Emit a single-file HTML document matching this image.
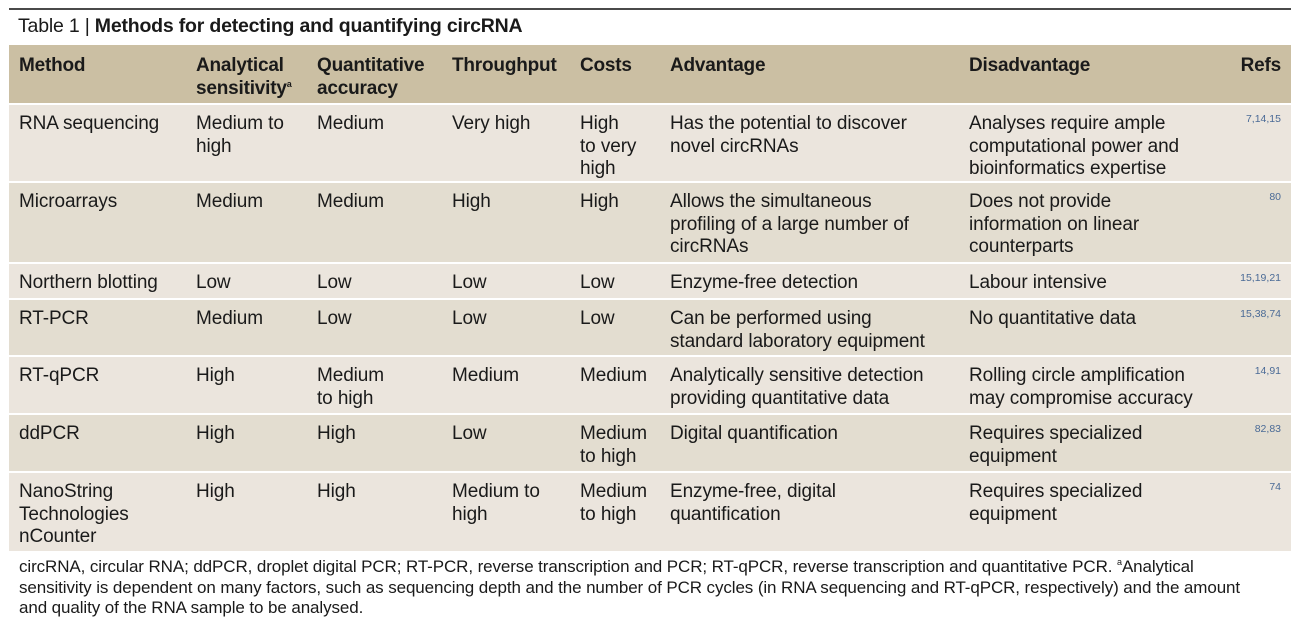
<!DOCTYPE html>
<html><head><meta charset="utf-8"><style>
body{margin:0;width:1308px;height:625px;background:#fff;font-family:"Liberation Sans",sans-serif;color:#1a1a1a;position:relative;overflow:hidden}
.topline{position:absolute;left:9px;top:8px;width:1282px;height:2px;background:#4a4a4a}
.title{position:absolute;left:18px;top:15px;font-size:19.5px;letter-spacing:-0.2px;white-space:nowrap}
.row{position:absolute;left:9px;width:1282px}
.hd{background:#cbbfa3}
.l{background:#ebe5dd}
.d{background:#e3ddd0}
.c{position:absolute;top:8px;font-size:19px;line-height:22.5px;white-space:nowrap;letter-spacing:-0.1px}
.hd .c{font-weight:bold;top:9px;line-height:23px;font-size:19px;letter-spacing:-0.2px}
.ref{position:absolute;right:10px;top:8px;font-size:10.5px;color:#4a6a96}
.foot{position:absolute;left:19px;top:557px;font-size:17px;line-height:20.5px;white-space:nowrap;letter-spacing:-0.1px}
sup{font-size:9px;line-height:0;vertical-align:7px}
</style></head><body>
<div class="topline"></div>
<div class="title">Table 1 | <b>Methods for detecting and quantifying circRNA</b></div>

<div class="row hd" style="top:45px;height:58px">
<div class="c" style="left:10px">Method</div>
<div class="c" style="left:187px">Analytical<br>sensitivity<sup>a</sup></div>
<div class="c" style="left:308px">Quantitative<br>accuracy</div>
<div class="c" style="left:443px">Throughput</div>
<div class="c" style="left:571px">Costs</div>
<div class="c" style="left:661px">Advantage</div>
<div class="c" style="left:960px">Disadvantage</div>
<div class="c" style="right:10px">Refs</div>
</div>

<div class="row l" style="top:105px;height:76px">
<div class="c" style="left:10px">RNA sequencing</div>
<div class="c" style="left:187px">Medium to<br>high</div>
<div class="c" style="left:308px">Medium</div>
<div class="c" style="left:443px">Very high</div>
<div class="c" style="left:571px">High<br>to very<br>high</div>
<div class="c" style="left:661px">Has the potential to discover<br>novel circRNAs</div>
<div class="c" style="left:960px">Analyses require ample<br>computational power and<br>bioinformatics expertise</div>
<div class="ref">7,14,15</div>
</div>

<div class="row d" style="top:183px;height:79px">
<div class="c" style="left:10px">Microarrays</div>
<div class="c" style="left:187px">Medium</div>
<div class="c" style="left:308px">Medium</div>
<div class="c" style="left:443px">High</div>
<div class="c" style="left:571px">High</div>
<div class="c" style="left:661px">Allows the simultaneous<br>profiling of a large number of<br>circRNAs</div>
<div class="c" style="left:960px">Does not provide<br>information on linear<br>counterparts</div>
<div class="ref">80</div>
</div>

<div class="row l" style="top:264px;height:34px">
<div class="c" style="left:10px">Northern blotting</div>
<div class="c" style="left:187px">Low</div>
<div class="c" style="left:308px">Low</div>
<div class="c" style="left:443px">Low</div>
<div class="c" style="left:571px">Low</div>
<div class="c" style="left:661px">Enzyme-free detection</div>
<div class="c" style="left:960px">Labour intensive</div>
<div class="ref">15,19,21</div>
</div>

<div class="row d" style="top:300px;height:55px">
<div class="c" style="left:10px">RT-PCR</div>
<div class="c" style="left:187px">Medium</div>
<div class="c" style="left:308px">Low</div>
<div class="c" style="left:443px">Low</div>
<div class="c" style="left:571px">Low</div>
<div class="c" style="left:661px">Can be performed using<br>standard laboratory equipment</div>
<div class="c" style="left:960px">No quantitative data</div>
<div class="ref">15,38,74</div>
</div>

<div class="row l" style="top:357px;height:56px">
<div class="c" style="left:10px">RT-qPCR</div>
<div class="c" style="left:187px">High</div>
<div class="c" style="left:308px">Medium<br>to high</div>
<div class="c" style="left:443px">Medium</div>
<div class="c" style="left:571px">Medium</div>
<div class="c" style="left:661px">Analytically sensitive detection<br>providing quantitative data</div>
<div class="c" style="left:960px">Rolling circle amplification<br>may compromise accuracy</div>
<div class="ref">14,91</div>
</div>

<div class="row d" style="top:415px;height:56px">
<div class="c" style="left:10px">ddPCR</div>
<div class="c" style="left:187px">High</div>
<div class="c" style="left:308px">High</div>
<div class="c" style="left:443px">Low</div>
<div class="c" style="left:571px">Medium<br>to high</div>
<div class="c" style="left:661px">Digital quantification</div>
<div class="c" style="left:960px">Requires specialized<br>equipment</div>
<div class="ref">82,83</div>
</div>

<div class="row l" style="top:473px;height:78px">
<div class="c" style="left:10px">NanoString<br>Technologies<br>nCounter</div>
<div class="c" style="left:187px">High</div>
<div class="c" style="left:308px">High</div>
<div class="c" style="left:443px">Medium to<br>high</div>
<div class="c" style="left:571px">Medium<br>to high</div>
<div class="c" style="left:661px">Enzyme-free, digital<br>quantification</div>
<div class="c" style="left:960px">Requires specialized<br>equipment</div>
<div class="ref">74</div>
</div>

<div class="foot">circRNA, circular RNA; ddPCR, droplet digital PCR; RT-PCR, reverse transcription and PCR; RT-qPCR, reverse transcription and quantitative PCR. <sup>a</sup>Analytical<br>sensitivity is dependent on many factors, such as sequencing depth and the number of PCR cycles (in RNA sequencing and RT-qPCR, respectively) and the amount<br>and quality of the RNA sample to be analysed.</div>
</body></html>
